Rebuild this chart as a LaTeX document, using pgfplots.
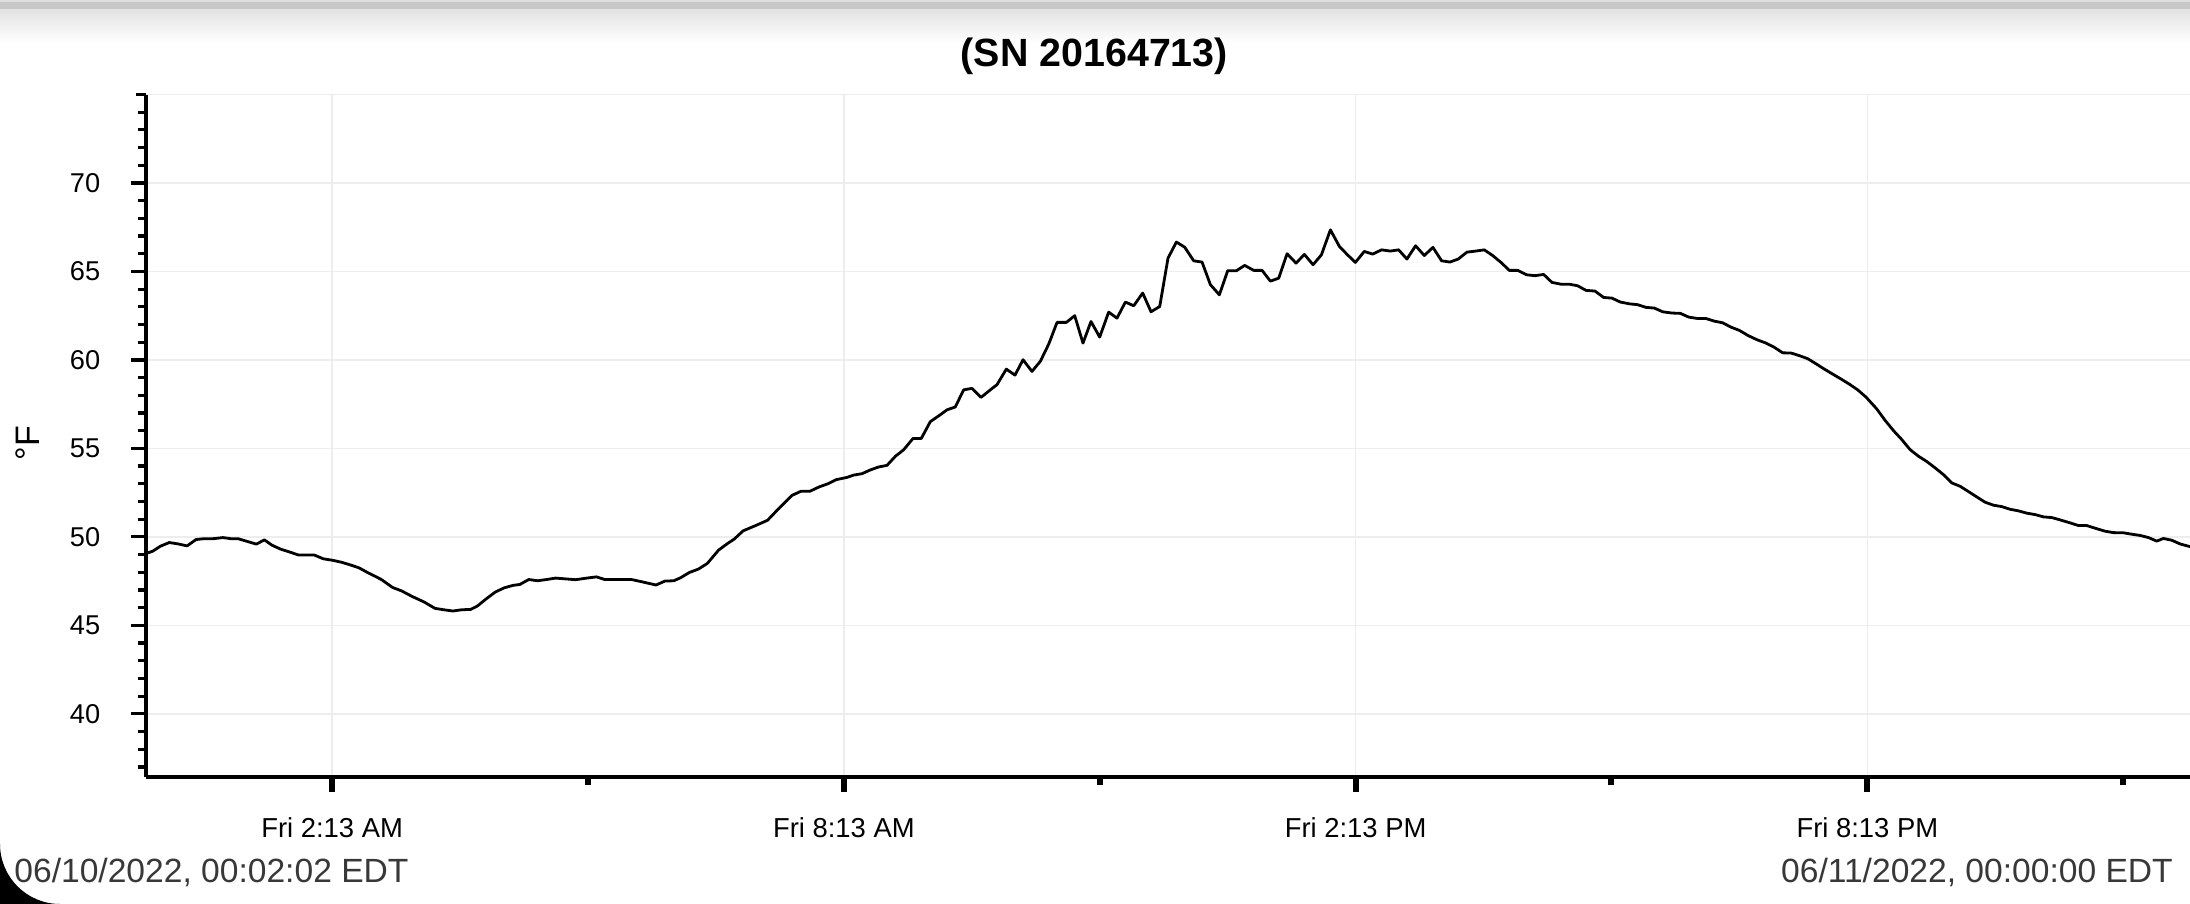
\documentclass[border=0pt]{standalone}
\usepackage{fontspec}
\setmainfont{Liberation Sans}
\usepackage{pgfplots}
\pgfplotsset{compat=1.18}
\definecolor{gridc}{HTML}{EDEDED}
\definecolor{datec}{HTML}{383838}
\pgfplotstableread{
h T
0.034 49.06
0.113 49.19
0.202 49.47
0.307 49.68
0.412 49.60
0.516 49.49
0.621 49.85
0.700 49.89
0.831 49.90
0.935 49.96
1.040 49.89
1.118 49.89
1.223 49.74
1.328 49.59
1.422 49.83
1.511 49.53
1.616 49.30
1.721 49.14
1.825 48.97
2.009 48.97
2.113 48.76
2.218 48.68
2.323 48.57
2.427 48.42
2.532 48.25
2.637 47.97
2.794 47.59
2.925 47.14
3.029 46.95
3.160 46.62
3.291 46.33
3.422 45.96
3.527 45.88
3.632 45.81
3.736 45.88
3.841 45.90
3.919 46.09
4.024 46.50
4.129 46.88
4.234 47.12
4.338 47.26
4.417 47.31
4.522 47.59
4.626 47.52
4.731 47.59
4.836 47.67
4.940 47.63
5.071 47.58
5.202 47.67
5.317 47.74
5.412 47.59
5.569 47.59
5.726 47.59
5.831 47.48
6.014 47.28
6.118 47.50
6.223 47.52
6.302 47.69
6.406 47.99
6.511 48.18
6.616 48.50
6.747 49.25
6.851 49.62
6.930 49.87
7.035 50.34
7.192 50.66
7.322 50.94
7.453 51.60
7.610 52.35
7.715 52.58
7.820 52.58
7.925 52.82
8.029 53.00
8.124 53.23
8.253 53.36
8.331 53.49
8.429 53.57
8.526 53.78
8.624 53.95
8.722 54.04
8.820 54.55
8.917 54.92
9.027 55.56
9.124 55.56
9.230 56.51
9.347 56.90
9.426 57.18
9.523 57.34
9.621 58.31
9.719 58.39
9.824 57.88
9.934 58.31
10.012 58.60
10.121 59.48
10.223 59.14
10.317 60.01
10.422 59.35
10.520 59.92
10.618 60.89
10.716 62.12
10.825 62.12
10.923 62.50
11.020 60.95
11.114 62.17
11.216 61.29
11.321 62.70
11.419 62.36
11.517 63.27
11.615 63.06
11.720 63.78
11.818 62.72
11.920 63.02
12.017 65.75
12.115 66.66
12.213 66.37
12.318 65.60
12.416 65.53
12.514 64.25
12.619 63.68
12.717 65.04
12.819 65.04
12.916 65.34
13.022 65.06
13.120 65.06
13.217 64.45
13.315 64.62
13.413 66.00
13.518 65.47
13.616 65.96
13.718 65.38
13.816 65.94
13.921 67.35
14.027 66.41
14.117 65.96
14.214 65.51
14.318 66.13
14.416 65.98
14.521 66.22
14.623 66.15
14.721 66.22
14.818 65.70
14.920 66.45
15.022 65.90
15.123 66.36
15.225 65.60
15.323 65.53
15.420 65.70
15.522 66.09
15.624 66.15
15.725 66.22
15.823 65.90
15.921 65.51
16.019 65.06
16.116 65.06
16.222 64.81
16.320 64.76
16.421 64.83
16.519 64.38
16.624 64.28
16.722 64.28
16.820 64.19
16.918 63.93
17.023 63.89
17.125 63.53
17.223 63.49
17.320 63.27
17.426 63.17
17.524 63.12
17.621 62.97
17.719 62.93
17.817 62.72
17.922 62.65
18.024 62.63
18.122 62.42
18.227 62.34
18.325 62.34
18.423 62.19
18.520 62.10
18.618 61.85
18.716 61.67
18.821 61.37
18.923 61.14
19.029 60.95
19.126 60.71
19.224 60.40
19.322 60.39
19.420 60.24
19.517 60.07
19.615 59.78
19.713 59.48
19.810 59.20
19.908 58.92
20.006 58.63
20.103 58.31
20.201 57.90
20.327 57.23
20.424 56.59
20.522 56.01
20.620 55.50
20.718 54.93
20.815 54.56
20.913 54.26
21.011 53.90
21.108 53.52
21.206 53.05
21.304 52.86
21.402 52.56
21.499 52.26
21.597 51.96
21.695 51.79
21.793 51.71
21.890 51.56
21.988 51.47
22.086 51.34
22.183 51.26
22.281 51.13
22.379 51.09
22.477 50.96
22.594 50.79
22.692 50.64
22.789 50.64
22.887 50.49
23.004 50.32
23.102 50.24
23.219 50.23
23.317 50.15
23.415 50.08
23.513 49.96
23.610 49.76
23.688 49.91
23.786 49.81
23.884 49.60
23.982 49.47
24.000 49.45
}\tempdata
\begin{document}
\begin{tikzpicture}
\path[use as bounding box, fill=white] (0,0) rectangle (1095pt,452pt);
\shade[top color=black!11, bottom color=white] (0,430.5pt) rectangle (1095pt,447.4pt);
\fill[black!22] (0,447.3pt) rectangle (1095pt,451.2pt);
\fill[black!13] (0,451.2pt) rectangle (1095pt,452pt);
\begin{axis}[
  at={(73pt,63.5pt)}, anchor=south west,
  scale only axis, width=1022pt, height=341.25pt,
  xmin=0.034, xmax=24, ymin=36.43, ymax=75,
  axis lines*=left,
  x axis line style={line width=2pt, black},
  y axis line style={line width=1.7pt, black},
  xtick={2.2167,8.2167,14.2167,20.2167},
  xticklabels={Fri 2:13 AM, Fri 8:13 AM, Fri 2:13 PM, Fri 8:13 PM},
  minor xtick={5.2167,11.2167,17.2167,23.2167},
  ytick={40,45,50,55,60,65,70},
  minor ytick={37,38,...,74},
  extra y ticks={75}, extra y tick labels={},
  extra y tick style={grid=major, major tick length=5pt},
  xmajorgrids, ymajorgrids,
  grid style={gridc, line width=0.75pt},
  tick align=outside,
  major tick length=7.4pt, minor tick length=4.2pt,
  tick style={black},
  x tick style={line width=3pt},
  y tick style={line width=1.6pt},
  /pgf/number format/assume math mode=true,
  xticklabel style={font=\fontsize{13.7}{15}\selectfont, anchor=base, inner sep=0pt, yshift=-22.8pt},
  yticklabel style={font=\fontsize{13.6}{15}\selectfont, anchor=east, inner sep=0pt, xshift=-15.3pt},
  clip=false,
]
\addplot[black, line width=1.4pt, line join=round] table[x=h, y=T] {\tempdata};
\end{axis}
\node[anchor=base, inner sep=0pt, font=\bfseries\fontsize{19.7}{22}\selectfont] at (547.2pt,418.9pt) {(SN 20164713)};
\node[rotate=90, inner sep=0pt, font=\fontsize{17}{19}\selectfont] at (14pt,230.5pt) {°F};
\node[anchor=base west, inner sep=0pt, text=datec, font=\fontsize{16.8}{20}\selectfont] at (7pt,10.5pt) {06/10/2022, 00:02:02 EDT};
\node[anchor=base east, inner sep=0pt, text=datec, font=\fontsize{16.8}{20}\selectfont] at (1086.6pt,10.5pt) {06/11/2022, 00:00:00 EDT};
\fill[black] (0,0) -- (0,30pt) arc[start angle=180, end angle=270, radius=30pt] -- cycle;
\end{tikzpicture}
\end{document}
